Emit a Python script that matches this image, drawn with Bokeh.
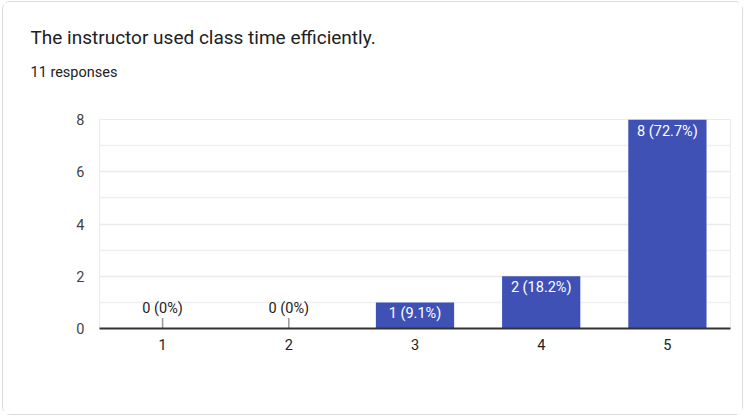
from bokeh.plotting import figure
from bokeh.models import ColumnDataSource, FixedTicker, Title
from bokeh.core.properties import value
from bokeh.embed import file_html
from bokeh.resources import INLINE

title_text = "The instructor used class time efficiently."
subtitle_text = "11 responses"
categories = ["1", "2", "3", "4", "5"]
counts = [0, 0, 1, 2, 8]
labels = ["0 (0%)", "0 (0%)", "1 (9.1%)", "2 (18.2%)", "8 (72.7%)"]
y_ticks = [0, 2, 4, 6, 8]
y_minor = [1, 3, 5, 7]

FONT = "Roboto"
SMALL = "14.5px"

p = figure(x_range=categories, y_range=(0, 8), width=741, height=414,
           output_backend="svg", toolbar_location=None,
           min_border_left=96, min_border_right=14, min_border_top=117, min_border_bottom=88)
p.styles = {"border": "1px solid #dadce0", "border-radius": "8px", "box-sizing": "border-box",
            "margin-left": "2px", "margin-top": "1px"}
p.x_range.range_padding = 0
p.background_fill_color = "white"
p.border_fill_color = "white"
p.outline_line_color = "#ebebeb"

nz = [i for i, c in enumerate(counts) if c > 0]
z = [i for i, c in enumerate(counts) if c == 0]
src = ColumnDataSource(dict(x=[categories[i] for i in nz], top=[counts[i] for i in nz],
                            lab=[labels[i] for i in nz]))
zsrc = ColumnDataSource(dict(x=[categories[i] for i in z], y0=[0] * len(z),
                             lab=[labels[i] for i in z]))

p.vbar(x="x", top="top", width=0.62, source=src, fill_color="#3f51b5", line_color=None)
p.text(x="x", y="top", text="lab", source=src, text_align="center", text_baseline="top",
       y_offset=3, text_color="white", text_font_size=SMALL, text_font=value(FONT))
p.segment(x0="x", y0="y0", x1="x", y1=0.4, source=zsrc, line_color="#999999", line_width=1.5)
p.text(x="x", y=0.75, text="lab", source=zsrc, text_align="center", text_baseline="middle",
       text_color="#222222", text_font_size=SMALL, text_font=value(FONT))

p.yaxis.ticker = FixedTicker(ticks=y_ticks, minor_ticks=y_minor)
p.yaxis.axis_line_color = None
p.yaxis.major_tick_line_color = None
p.yaxis.minor_tick_line_color = None
p.yaxis.major_label_text_font = FONT
p.yaxis.major_label_text_font_size = SMALL
p.yaxis.major_label_text_color = "#444444"
p.yaxis.major_label_standoff = 9
p.ygrid.grid_line_color = "#ebebeb"
p.ygrid.grid_line_width = 1.5
p.ygrid.minor_grid_line_color = "#f0f0f0"
p.ygrid.minor_grid_line_width = 1.5
p.xgrid.grid_line_color = None

p.xaxis.axis_line_color = "#333333"
p.xaxis.axis_line_width = 2
p.xaxis.major_tick_line_color = None
p.xaxis.minor_tick_line_color = None
p.xaxis.major_label_text_font = FONT
p.xaxis.major_label_text_font_size = SMALL
p.xaxis.major_label_text_color = "#222222"
p.xaxis.major_label_standoff = 4

p.add_layout(Title(text=subtitle_text, text_font=FONT, text_font_size=SMALL,
                   text_color="#202124", text_font_style="normal", offset=-69,
                   standoff=78), "above")
p.add_layout(Title(text=title_text, text_font=FONT, text_font_size="19px",
                   text_color="#202124", text_font_style="normal", offset=-69,
                   standoff=-53), "above")

open("out.html", "w").write(file_html(p, INLINE))
